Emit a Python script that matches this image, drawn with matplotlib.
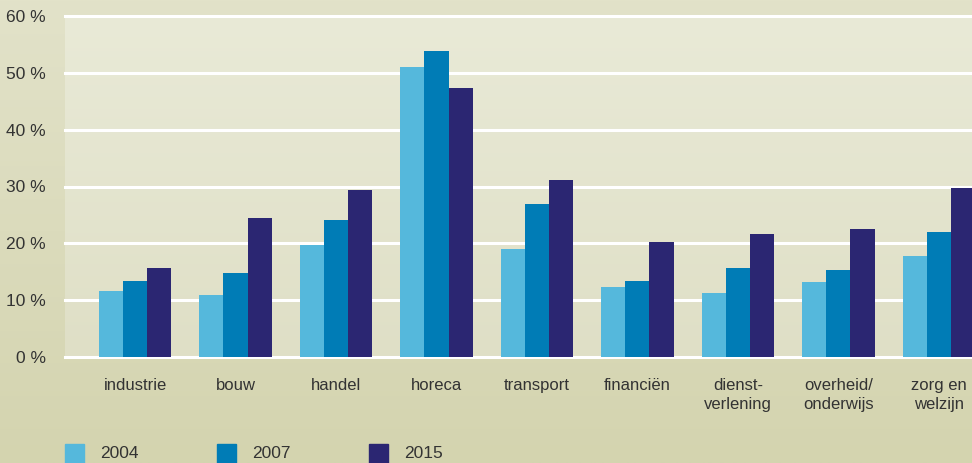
import matplotlib
matplotlib.use('Agg')
import matplotlib.pyplot as plt
import numpy as np

categories = ['industrie', 'bouw', 'handel', 'horeca', 'transport',
              'financiën', 'dienst-\nverlening', 'overheid/\nonderwijs',
              'zorg en\nwelzijn']
years = ['2004', '2007', '2015']
v2004 = [11.6, 10.9, 19.7, 51.1, 19.0, 12.3, 11.3, 13.2, 17.8]
v2007 = [13.4, 14.8, 24.1, 53.9, 26.9, 13.4, 15.7, 15.3, 22.0]
v2015 = [15.7, 24.5, 29.4, 47.4, 31.2, 20.2, 21.7, 22.5, 29.8]
yticks = [0, 10, 20, 30, 40, 50, 60]

colors = ['#55b8dc', '#007cb6', '#2b2672']

plt.rcParams['font.family'] = ['Liberation Sans', 'DejaVu Sans']

W, H = 972, 463
fig = plt.figure(figsize=(W / 100, H / 100), dpi=100)

# figure background gradient
bg = fig.add_axes([0, 0, 1, 1], zorder=-10)
grad = np.linspace(0, 1, 256).reshape(-1, 1)
top = np.array([0xe2, 0xe2, 0xc9]) / 255
bot = np.array([0xd4, 0xd4, 0xaf]) / 255
bg.imshow(top + (bot - top) * grad[:, :, None] * np.ones((1, 2, 1)),
          aspect='auto', extent=[0, 1, 0, 1])
bg.axis('off')

ax = fig.add_axes([65 / W, 1 - 357 / H, 1 - 65 / W, (357 - 16) / H])
x = np.arange(len(categories))
w = 0.24
ax.set_xlim(-0.697, 8.33)
ax.set_ylim(0, 60)

# plot area gradient
ptop = np.array([0xe9, 0xea, 0xd7]) / 255
pbot = np.array([0xdf, 0xdf, 0xc6]) / 255
ax.imshow(ptop + (pbot - ptop) * grad[:, :, None] * np.ones((1, 2, 1)),
          aspect='auto', extent=[-0.697, 8.33, 0, 60], zorder=0)

for yt in yticks:
    ax.axhline(yt, color='white', lw=2.2, zorder=1, clip_on=False)

for i, vals in enumerate([v2004, v2007, v2015]):
    ax.bar(x + (i - 1) * w, vals, width=w, color=colors[i], zorder=2)

ax.set_yticks(yticks)
ax.set_yticklabels([f'{t} %' for t in yticks], fontsize=12.5, color='#333333')
ax.set_xticks(x)
ax.set_xticklabels(categories, fontsize=12, color='#333333',
                   va='top', linespacing=1.35)
ax.tick_params(axis='both', length=0)
ax.tick_params(axis='y', pad=14)
ax.tick_params(axis='x', pad=15)
for s in ax.spines.values():
    s.set_visible(False)

# legend
for i, (yr, c) in enumerate(zip(years, colors)):
    x0 = 65 + i * 152
    fig.patches.append(plt.Rectangle((x0 / W, 0), 19 / W, 19 / H,
                                     transform=fig.transFigure, color=c))
    fig.text((x0 + 35) / W, 1 - 453 / H, yr, fontsize=12.5, color='#333333',
             va='center', ha='left')

fig.savefig('out.png', dpi=100)
